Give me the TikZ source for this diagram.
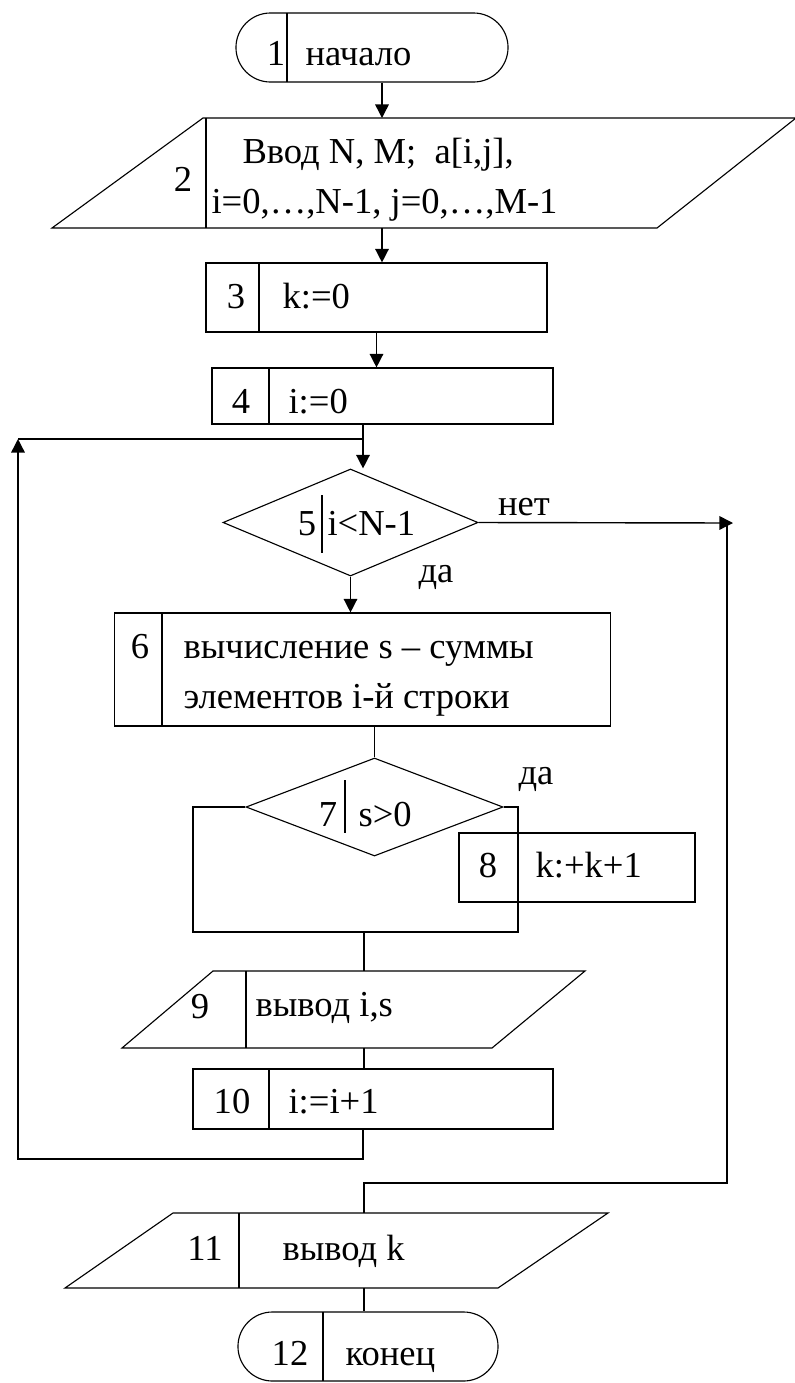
\documentclass[tikz,border=0pt]{standalone}
\usepackage{fontspec}
\setmainfont{Liberation Serif}
\newfontfamily\timesfont{Liberation Serif}
\usetikzlibrary{arrows.meta,shapes.geometric,shapes.misc}

\tikzset{
  term/.style={draw, rounded rectangle, inner sep=0pt, minimum height=1.725cm},
  blk/.style={draw, rectangle, inner sep=0pt},
  cond/.style={draw, diamond, inner sep=0pt},
  num/.style={anchor=base, inner sep=0pt},
  txt/.style={anchor=base west, inner sep=0pt},
  arr/.style={-{Triangle[length=0.34cm,width=0.34cm]}},
  con/.style={line width=1pt},
}

\begin{document}
\begin{tikzpicture}[x=0.025cm, y=-0.025cm, line width=0.8pt, font=\timesfont\fontsize{26}{31}\selectfont]
  \useasboundingbox (0,0) rectangle (795,1383);

  % 1 начало
  \node[term, minimum width=6.8cm] (t1) at (372,47.5) {};
  \draw (287,13) -- (287,82);
  \node[num] (n1) at (276,65) {1};
  \node[txt] (x1) at (305,65) {начало};

  % 2 ввод
  \draw (203,118) -- (796,118) -- (657,228) -- (52,228) -- cycle;
  \draw (206,118) -- (206,228);
  \coordinate (in2) at (382,118);
  \coordinate (out2) at (382,228);
  \node[num] (n2) at (183,191) {2};
  \node[txt] (x2a) at (242,163) {Ввод N, M;\ \ a[i,j],};
  \node[txt] (x2b) at (211,213) {i=0,…,N-1, j=0,…,M-1};

  % 3, 4
  \node[blk, minimum width=8.525cm, minimum height=1.725cm] (b3) at (376.5,297.5) {};
  \draw (259,263) -- (259,332);
  \node[num] (n3) at (236,308) {3};
  \node[txt] (x3) at (282,308) {k:=0};

  \node[blk, minimum width=8.525cm, minimum height=1.4cm] (b4) at (382.5,396) {};
  \draw (269,368) -- (269,424);
  \node[num] (n4) at (241,413) {4};
  \node[txt] (x4) at (288,413) {i:=0};

  % 5 условие цикла
  \node[cond, minimum width=6.375cm, minimum height=2.675cm] (d5) at (350.5,522.5) {};
  \draw (322,495) -- (322,553);
  \node[num] (n5) at (307,535) {5};
  \node[txt] (x5) at (327,535) {i<N-1};
  \node[num] (no5) at (524,515) {нет};
  \node[num] (yes5) at (436,582) {да};

  % 6
  \node[blk, minimum width=12.375cm, minimum height=2.825cm] (b6) at (362.5,669.5) {};
  \draw (162,613) -- (162,726);
  \node[num] (n6) at (140,658) {6};
  \node[txt] (x6a) at (183,658) {вычисление s – суммы};
  \node[txt] (x6b) at (183,708) {элементов i-й строки};

  % 7, 8
  \node[cond, minimum width=6.425cm, minimum height=2.45cm] (d7) at (374.5,807) {};
  \draw (345,780) -- (345,833);
  \node[num] (n7) at (328,826) {7};
  \node[txt] (x7) at (358,826) {s>0};
  \node[num] (yes7) at (536,784) {да};

  \node[blk, minimum width=5.9cm, minimum height=1.725cm] (b8) at (577,867.5) {};
  \node[num] (n8) at (488,877) {8};
  \node[txt] (x8) at (535,877) {k:+k+1};

  % 9 вывод
  \draw (213,971) -- (585,971) -- (492,1048) -- (122,1048) -- cycle;
  \draw (246,971) -- (246,1048);
  \coordinate (in9) at (364,971);
  \coordinate (out9) at (364,1048);
  \node[num] (n9) at (200,1018) {9};
  \node[txt] (x9) at (255,1016) {вывод i,s};

  % 10
  \node[blk, minimum width=9cm, minimum height=1.5cm] (b10) at (373,1099) {};
  \draw (269,1069) -- (269,1129);
  \node[num] (n10) at (232,1113) {10};
  \node[txt] (x10) at (288,1113) {i:=i+1};

  % 11 вывод k
  \draw (173,1213) -- (608,1213) -- (498,1288) -- (65,1288) -- cycle;
  \draw (239,1213) -- (239,1288);
  \coordinate (in11) at (364,1213);
  \coordinate (out11) at (364,1288);
  \node[num] (n11) at (205,1260) {11};
  \node[txt] (x11) at (282,1260) {вывод k};

  % 12 конец
  \node[term, minimum width=6.5cm] (t12) at (368,1346.5) {};
  \draw (323,1312) -- (323,1381);
  \node[num] (n12) at (290,1365) {12};
  \node[txt] (x12) at (345,1365) {конец};

  % connectors
  \coordinate (j5) at (363,439);
  \coordinate (lp) at (18,1159);
  \coordinate (rt) at (733,523);
  \coordinate (rc) at (727,523);
  \coordinate (j11) at (364,1183);
  \coordinate (l7) at (193,932);
  \coordinate (r7) at (518,932);
  \coordinate (m7) at (364,932);

  \draw[con, arr] (t1.south -| in2) -- (in2);
  \draw[con, arr] (out2) -- (out2 |- b3.north);
  \draw[con, arr] (b3.south) -- (b3.south |- b4.north);
  \draw[con] (b4.south -| j5) -- (j5);
  \draw[con, arr] (j5) -- (j5 |- d5.north);
  \draw[con, arr] (d5.south) -- (d5.south |- b6.north);
  \draw[con, arr] (d5.east) -- (rt);
  \draw[con] (rc) |- (j11) -- (in11);
  \draw[con] (d7.north |- b6.south) -- (d7.north);
  \draw[con] (d7.west) -| (l7) -- (m7);
  \draw[con] (d7.east) -| (r7) -- (m7);
  \draw (r7 |- b8.north) -- (r7 |- b8.south);
  \draw[con] (m7) -- (in9);
  \draw[con] (out9) -- (out9 |- b10.north);
  \draw[con, arr] (b10.south -| j5) |- (lp) -- (lp |- j5);
  \draw[con] (lp |- j5) -- (j5);
  \draw[con] (out11) -- (out11 |- t12.north);
\end{tikzpicture}
\end{document}
